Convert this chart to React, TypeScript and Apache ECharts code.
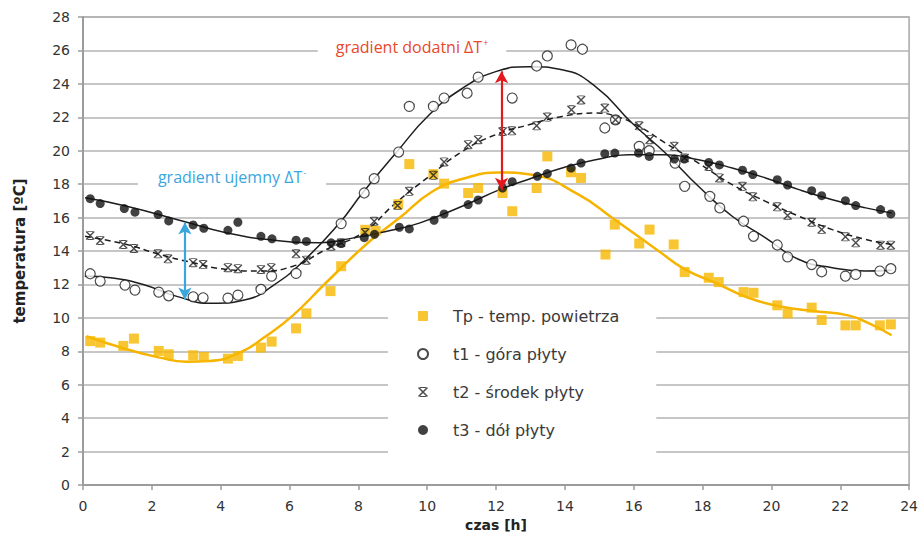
import React, { useEffect, useRef } from "react";
import * as echarts from "echarts";

// ---- data ----
const xTicks = { min: 0, max: 24, interval: 2 };
const yTicks = { min: 0, max: 28, interval: 2 };

const seriesNames = ["Tp - temp. powietrza", "t1 - góra płyty", "t2 - środek płyty", "t3 - dół płyty"];

const tpPoints: [number, number][] = [
  [0.21, 8.61], [0.5, 8.52], [1.17, 8.32], [1.48, 8.76], [2.2, 8.02], [2.49, 7.82], [3.2, 7.76], [3.51, 7.66],
  [4.21, 7.56], [4.5, 7.72], [5.17, 8.22], [5.48, 8.58], [6.19, 9.37], [6.49, 10.27], [7.19, 11.6], [7.5, 13.09],
  [8.2, 15.27], [8.5, 15.2], [9.16, 16.8], [9.48, 19.2], [10.18, 18.6], [10.49, 18.03], [11.19, 17.47], [11.48, 17.77],
  [12.19, 17.47], [12.47, 16.38], [13.18, 17.77], [13.49, 19.66], [14.18, 18.71], [14.47, 18.37], [15.18, 13.79], [15.45, 15.58],
  [16.16, 14.45], [16.46, 15.28], [17.16, 14.39], [17.48, 12.74], [18.18, 12.4], [18.47, 12.14], [19.19, 11.54], [19.48, 11.5],
  [20.17, 10.75], [20.47, 10.27], [21.17, 10.61], [21.46, 9.87], [22.15, 9.55], [22.45, 9.55], [23.15, 9.55], [23.47, 9.61],
];

const t1Points: [number, number][] = [
  [0.21, 12.64], [0.5, 12.2], [1.22, 11.96], [1.51, 11.66], [2.2, 11.54], [2.49, 11.32], [3.2, 11.26], [3.49, 11.2],
  [4.21, 11.18], [4.5, 11.36], [5.17, 11.7], [5.48, 12.5], [6.19, 12.66], [7.5, 15.64], [8.17, 17.47], [8.46, 18.33],
  [9.17, 19.92], [9.48, 22.65], [10.18, 22.65], [10.49, 23.15], [11.16, 23.44], [11.48, 24.4], [12.47, 23.15], [13.18, 25.07],
  [13.49, 25.67], [14.18, 26.33], [14.51, 26.07], [15.16, 21.36], [15.47, 21.85], [16.16, 20.26], [16.45, 20.0], [17.2, 19.26],
  [17.48, 17.87], [18.21, 17.27], [18.5, 16.58], [19.19, 15.78], [19.48, 14.88], [20.17, 14.36], [20.47, 13.65], [21.17, 13.19],
  [21.46, 12.76], [22.15, 12.5], [22.45, 12.6], [23.15, 12.8], [23.47, 12.94],
];

const t2Points: [number, number][] = [
  [0.21, 14.93], [0.5, 14.63], [1.17, 14.39], [1.48, 14.15], [2.18, 13.83], [2.47, 13.53], [3.2, 13.3], [3.49, 13.19],
  [4.21, 13.0], [4.5, 12.94], [5.17, 12.9], [5.47, 13.0], [6.19, 13.83], [6.49, 13.45], [7.21, 14.29], [7.5, 14.49],
  [8.2, 15.1], [8.46, 15.78], [9.14, 16.72], [9.48, 17.57], [10.18, 18.53], [10.49, 19.33], [11.19, 20.36], [11.48, 20.66],
  [12.19, 21.15], [12.46, 21.19], [13.18, 21.49], [13.49, 22.01], [14.19, 22.45], [14.47, 23.04], [15.16, 22.55], [15.47, 21.85],
  [16.16, 21.49], [16.46, 20.66], [17.18, 20.26], [17.48, 19.56], [18.18, 19.06], [18.49, 18.37], [19.16, 17.87], [19.46, 17.24],
  [20.17, 16.64], [20.47, 16.12], [21.17, 15.72], [21.46, 15.28], [22.15, 14.85], [22.45, 14.49], [23.17, 14.35], [23.47, 14.35],
];

const t3Points: [number, number][] = [
  [0.21, 17.13], [0.5, 16.84], [1.2, 16.54], [1.51, 16.32], [2.18, 16.18], [2.49, 15.8], [3.2, 15.56], [3.51, 15.36],
  [4.21, 15.24], [4.5, 15.72], [5.17, 14.88], [5.49, 14.73], [6.19, 14.65], [6.49, 14.57], [7.21, 14.49], [7.5, 14.45],
  [8.17, 14.8], [8.47, 15.0], [9.19, 15.42], [9.48, 15.32], [10.2, 15.84], [10.49, 16.22], [11.19, 16.78], [11.48, 17.05],
  [12.19, 17.77], [12.47, 18.15], [13.2, 18.47], [13.49, 18.63], [14.18, 18.96], [14.47, 19.26], [15.16, 19.82], [15.45, 19.86],
  [16.14, 19.86], [16.45, 19.66], [17.18, 19.5], [17.47, 19.5], [18.18, 19.3], [18.49, 19.15], [19.16, 18.83], [19.46, 18.57],
  [20.17, 18.27], [20.47, 17.95], [21.17, 17.61], [21.46, 17.31], [22.15, 17.01], [22.45, 16.72], [23.17, 16.48], [23.47, 16.22],
];

// trend curves
const tpCurve: [number, number][] = [
  [0.1, 8.9], [1.27, 8.12], [2.23, 7.62], [3.0, 7.38], [3.68, 7.42], [4.55, 7.92], [5.32, 8.91], [6.1, 10.15],
  [7.06, 12.1], [8.32, 14.57], [9.19, 15.97], [10.15, 17.56], [11.12, 18.37], [12.09, 18.7], [13.05, 18.56], [14.4, 17.37],
  [15.38, 15.98], [16.73, 13.99], [17.49, 12.9], [18.37, 12.1], [19.33, 11.2], [20.3, 10.67], [21.27, 10.4], [22.23, 10.15],
  [22.9, 9.61], [23.49, 8.96],
];
const t1Curve: [number, number][] = [
  [0.05, 12.5], [0.8, 12.4], [1.75, 12.0], [2.7, 11.3], [3.75, 10.87], [4.75, 11.1], [5.5, 11.9], [6.39, 13.37],
  [7.45, 15.67], [8.12, 17.47], [9.09, 19.86], [10.06, 22.15], [11.03, 23.74], [11.99, 24.73], [12.95, 25.03], [13.92, 24.84],
  [14.89, 23.84], [15.95, 21.66], [16.92, 19.86], [17.88, 17.87], [18.86, 16.08], [19.83, 14.79], [20.8, 13.49], [21.77, 13.0],
  [22.74, 12.8], [23.49, 12.85],
];
const t2Curve: [number, number][] = [
  [0.06, 14.88], [1.27, 14.39], [2.23, 13.79], [3.2, 13.3], [4.16, 12.9], [5.13, 12.8], [6.1, 13.09], [7.06, 14.09],
  [8.12, 15.09], [9.09, 16.88], [10.06, 18.47], [11.03, 19.97], [11.99, 20.96], [12.95, 21.55], [13.92, 22.05], [14.89, 22.25],
  [15.5, 22.05], [16.2, 21.4], [16.92, 20.46], [17.88, 19.26], [18.86, 17.97], [19.83, 16.97], [20.8, 16.08], [21.77, 15.28],
  [22.74, 14.69], [23.49, 14.39],
];
const t3Curve: [number, number][] = [
  [0.06, 17.18], [1.27, 16.68], [2.91, 15.78], [4.16, 15.09], [5.5, 14.66], [6.87, 14.5], [7.83, 14.77], [8.8, 15.17],
  [9.77, 15.67], [11.12, 16.77], [12.09, 17.66], [13.05, 18.37], [13.92, 18.97], [14.89, 19.46], [15.85, 19.76], [16.92, 19.76],
  [17.88, 19.46], [18.86, 18.97], [19.83, 18.37], [20.8, 17.67], [21.77, 17.07], [22.74, 16.58], [23.49, 16.28],
];

// gradient arrows [x, yTop, yBottom]
const negativeGradient = [2.96, 15.7, 11.1];
const positiveGradient = [12.16, 24.75, 17.66];
const annotationTexts = ["gradient ujemny ΔT", "gradient dodatni ΔT"];
const annotationSigns = ["-", "+"];

const CROSS =
  "path://M0,1.1L1.1,0L10,8.9L8.9,10ZM8.9,0L10,1.1L1.1,10L0,8.9ZM2,0L8,0L8,1L2,1ZM2,9L8,9L8,10L2,10Z";

const YELLOW = "#f8b800";
const DARK = "#1e1e1e";
const AXIS_GRAY = "#9c9c9c";
const BLUE = "#3aa6de";
const RED = "#e8482c";

export default function App() {
  const ref = useRef<HTMLDivElement>(null);

  useEffect(() => {
    if (!ref.current) return;
    const chart = echarts.init(ref.current, undefined, { renderer: "svg" });

    const curve = (name: string, data: [number, number][], color: string, width: number, type: any = "solid") => ({
      name,
      type: "line",
      data,
      smooth: 0.5,
      showSymbol: false,
      symbol: "none",
      silent: true,
      z: 2,
      lineStyle: { color, width, type },
      emphasis: { disabled: true },
    });

    const annotation = (x: number, y: number, i: number, color: string, padX: number) => ({
      type: "text",
      x,
      y,
      z: 1,
      style: {
        text: `{m|${annotationTexts[i]}}{s|${annotationSigns[i]}}`,
        align: "center",
        verticalAlign: "middle",
        backgroundColor: "#ffffff",
        padding: [3, padX, 3, padX],
        rich: {
          m: { fill: color, color, fontSize: 16, fontFamily: "Open Sans, DejaVu Sans", lineHeight: 20 },
          s: { fill: color, color, fontSize: 9, fontFamily: "Open Sans, DejaVu Sans", lineHeight: 20, padding: [0, 0, 9, 1] },
        },
      },
    });

    const option: any = {
      animation: false,
      backgroundColor: "#ffffff",
      grid: {
        left: 83,
        right: 10,
        top: 17,
        bottom: 73,
        show: true,
        borderColor: "#a8a8a8",
        borderWidth: 1.5,
      },
      xAxis: {
        type: "value",
        min: xTicks.min,
        max: xTicks.max,
        interval: xTicks.interval,
        axisLine: { show: true, lineStyle: { color: AXIS_GRAY, width: 2 } },
        axisTick: { show: true, length: 5, lineStyle: { color: AXIS_GRAY, width: 1.5 } },
        axisLabel: { color: "#333", fontSize: 14, fontFamily: "DejaVu Sans", margin: 14 },
        splitLine: { show: false },
        name: "czas [h]",
        nameLocation: "middle",
        nameGap: 32,
        nameTextStyle: { color: "#222", fontSize: 14, fontWeight: "bold", fontFamily: "DejaVu Sans" },
      },
      yAxis: {
        type: "value",
        min: yTicks.min,
        max: yTicks.max,
        interval: yTicks.interval,
        axisLine: { show: true, lineStyle: { color: AXIS_GRAY, width: 2 } },
        axisTick: { show: true, length: 5, lineStyle: { color: AXIS_GRAY, width: 1.5 } },
        axisLabel: { color: "#333", fontSize: 14, fontFamily: "DejaVu Sans", margin: 13 },
        splitLine: { show: true, lineStyle: { color: "#b3b3b3", width: 1.6 } },
        name: "temperatura [ºC]",
        nameLocation: "middle",
        nameGap: 56,
        nameRotate: 90,
        nameTextStyle: { color: "#222", fontSize: 15, fontWeight: "bold", fontFamily: "DejaVu Sans" },
      },
      legend: {
        data: seriesNames,
        orient: "vertical",
        left: 388,
        top: 292,
        backgroundColor: "#ffffff",
        padding: [14, 37, 30, 29],
        itemGap: 18,
        itemWidth: 10,
        itemHeight: 10,
        selectedMode: false,
        textStyle: {
          fontSize: 16,
          fontFamily: "DejaVu Sans",
          color: "#3a3a3a",
          lineHeight: 20,
          padding: [0, 0, 0, 20],
        },
      },
      graphic: [annotation(232, 177, 0, BLUE, 20), annotation(412, 47, 1, RED, 18)],
      series: [
        curve("tpCurve", tpCurve, "#f6b400", 2.5),
        curve("t1Curve", t1Curve, DARK, 1.5),
        curve("t2Curve", t2Curve, DARK, 1.5, [6, 4]),
        {
          ...curve("t3Curve", t3Curve, DARK, 1.5),
          markLine: {
            silent: true,
            symbol: ["arrow", "arrow"],
            symbolSize: [10, 12],
            label: { show: false },
            data: [
              [
                { coord: [negativeGradient[0], negativeGradient[1]], lineStyle: { color: BLUE, width: 2.2, type: "solid" } },
                { coord: [negativeGradient[0], negativeGradient[2]] },
              ],
              [
                { coord: [positiveGradient[0], positiveGradient[1]], lineStyle: { color: "#e3171d", width: 2.2, type: "solid" } },
                { coord: [positiveGradient[0], positiveGradient[2]] },
              ],
            ],
          },
        },
        {
          name: seriesNames[0],
          type: "scatter",
          data: tpPoints,
          symbol: "rect",
          symbolSize: 10,
          z: 3,
          itemStyle: { color: YELLOW },
        },
        {
          name: seriesNames[1],
          type: "scatter",
          data: t1Points,
          symbol: "circle",
          symbolSize: 10,
          z: 3,
          itemStyle: { color: "#ffffff", borderColor: DARK, borderWidth: 1.2 },
        },
        {
          name: seriesNames[2],
          type: "scatter",
          data: t2Points,
          symbol: CROSS,
          symbolSize: 9,
          z: 3,
          itemStyle: { color: DARK },
        },
        {
          name: seriesNames[3],
          type: "scatter",
          data: t3Points,
          symbol: "circle",
          symbolSize: 9,
          z: 3,
          itemStyle: { color: "#111111" },
        },
      ],
    };

    chart.setOption(option);
    return () => chart.dispose();
  }, []);

  return (
    <div
      ref={ref}
      style={{ position: "absolute", left: 0, top: 0, width: 921, height: 558, background: "#fff" }}
    />
  );
}
